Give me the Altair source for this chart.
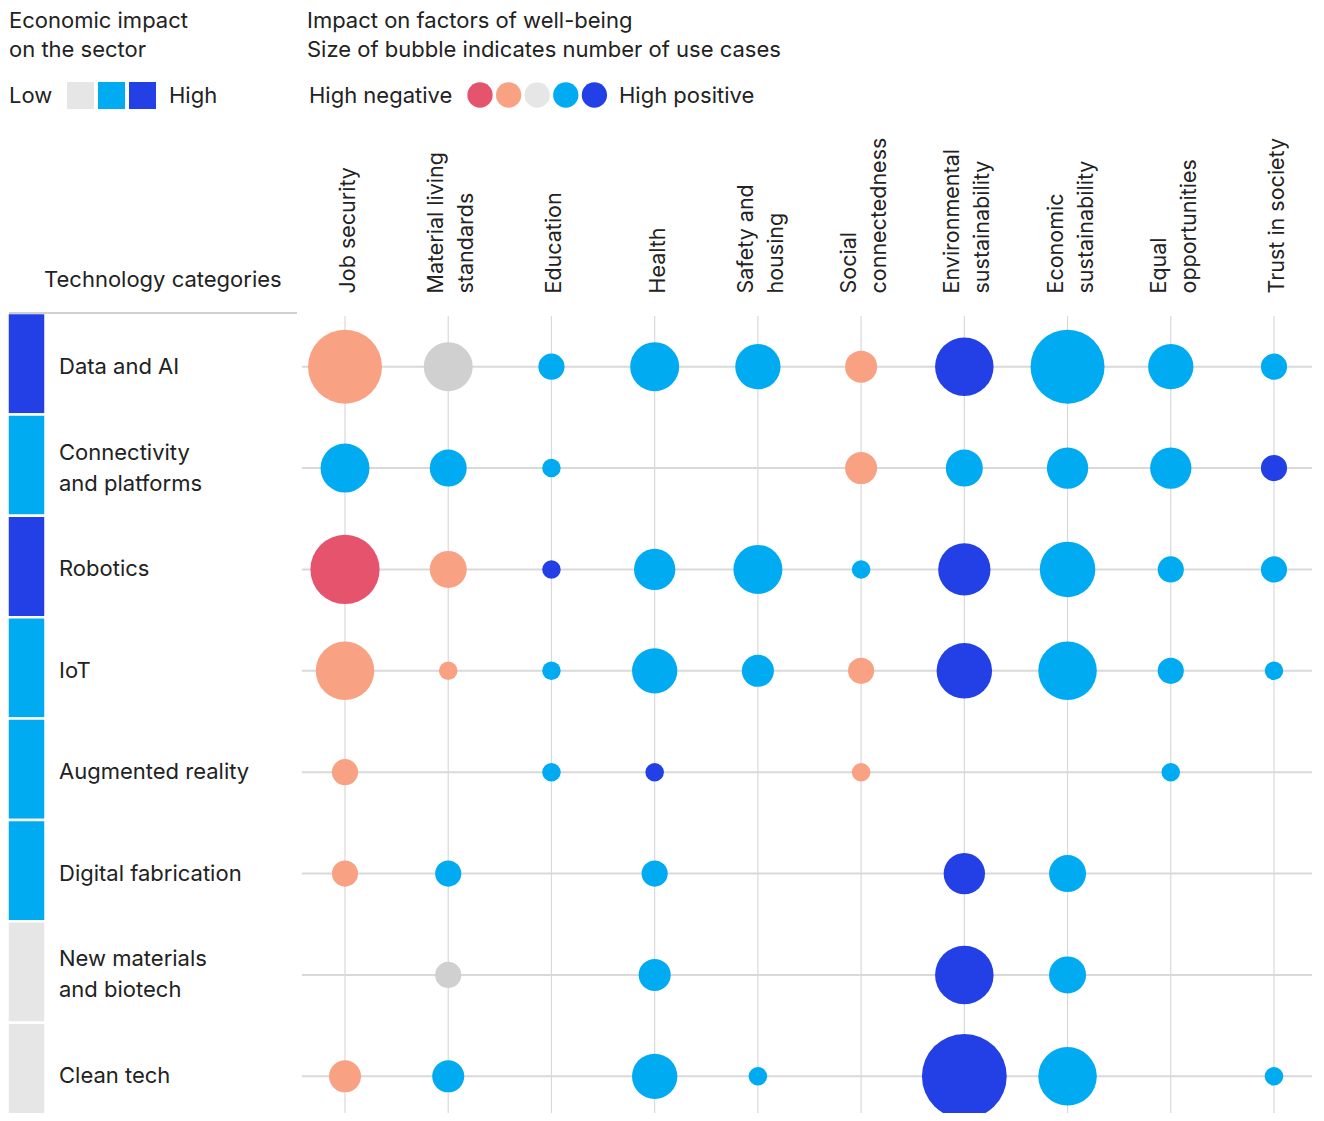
import altair as alt
import pandas as pd

# ---------------- data ----------------
columns = ["Job security", "Material living\nstandards", "Education", "Health",
           "Safety and\nhousing", "Social\nconnectedness", "Environmental\nsustainability",
           "Economic\nsustainability", "Equal\nopportunities", "Trust in society"]

rows = ["Data and AI", "Connectivity\nand platforms", "Robotics", "IoT",
        "Augmented reality", "Digital fabrication", "New materials\nand biotech", "Clean tech"]
row_labels = ["Data and AI", "Connectivity\nand platforms", "Robotics", "\u00a0IoT",
              "Augmented reality", "Digital fabrication", "New materials\nand biotech", "Clean tech"]
economic_impact = ["High", "Medium", "High", "Medium", "Medium", "Medium", "Low", "Low"]

# number of use cases per column (0 = no bubble)
cases_data_ai      = [16, 7, 2, 7, 6, 3, 10, 16, 6, 2]
cases_connectivity = [7, 4, 1, 0, 0, 3, 4, 5, 5, 2]
cases_robotics     = [14, 4, 1, 5, 7, 1, 8, 9, 2, 2]
cases_iot          = [10, 1, 1, 6, 3, 2, 9, 10, 2, 1]
cases_ar           = [2, 0, 1, 1, 0, 1, 0, 0, 1, 0]
cases_fabrication  = [2, 2, 0, 2, 0, 0, 5, 4, 0, 0]
cases_materials    = [0, 2, 0, 3, 0, 0, 10, 4, 0, 0]
cases_cleantech    = [3, 3, 0, 6, 1, 0, 21, 10, 0, 1]

# impact on well-being: -2 high negative ... 2 high positive (None = no bubble)
impact_data_ai      = [-1, 0, 1, 1, 1, -1, 2, 1, 1, 1]
impact_connectivity = [1, 1, 1, None, None, -1, 1, 1, 1, 2]
impact_robotics     = [-2, -1, 2, 1, 1, 1, 2, 1, 1, 1]
impact_iot          = [-1, -1, 1, 1, 1, -1, 2, 1, 1, 1]
impact_ar           = [-1, None, 1, 2, None, -1, None, None, 1, None]
impact_fabrication  = [-1, 1, None, 1, None, None, 2, 1, None, None]
impact_materials    = [None, 0, None, 1, None, None, 2, 1, None, None]
impact_cleantech    = [-1, 1, None, 1, 1, None, 2, 1, None, 1]

econ_levels = ["Low", "Medium", "High"]
econ_colors = ["#E6E6E6", "#00ABF2", "#2240E6"]
impact_levels = [-2, -1, 0, 1, 2]
impact_colors = ["#E5546C", "#F8A283", "#D0D0D0", "#00ABF2", "#2240E6"]
impact_legend_colors = ["#E5546C", "#F8A283", "#E6E6E6", "#00ABF2", "#2240E6"]

# ---------------- tables ----------------
cases_all = [cases_data_ai, cases_connectivity, cases_robotics, cases_iot,
             cases_ar, cases_fabrication, cases_materials, cases_cleantech]
impact_all = [impact_data_ai, impact_connectivity, impact_robotics, impact_iot,
              impact_ar, impact_fabrication, impact_materials, impact_cleantech]

recs = []
for r, cs, ims in zip(rows, cases_all, impact_all):
    for c, n, im in zip(columns, cs, ims):
        if n:
            recs.append({"row": r, "column": c, "cases": n, "impact": im})
bubble_df = pd.DataFrame(recs)
row_df = pd.DataFrame({"row": rows, "label": row_labels, "econ": economic_impact})
row_df["lines"] = row_df["label"].str.count("\n") + 1
col_df = pd.DataFrame({"column": columns})

W, H = 1010, 797
FONT = "Inter"
FS = 22
TXT = "#222222"
GRID = "#D9D9D9"

xscale = alt.Scale(type="band", domain=columns, range=[-8.6, 1023.6], paddingInner=0, paddingOuter=0)
yscale = alt.Scale(type="band", domain=rows, range=[0, 811], paddingInner=0, paddingOuter=0)
yscale_bars = alt.Scale(type="band", domain=rows, range=[-3, 808], paddingInner=0, paddingOuter=0)

top_axis = alt.Axis(orient="top", labelAngle=270, labelAlign="left", labelBaseline="middle",
                    labelPadding=23, ticks=False, tickSize=0, domain=False, grid=False,
                    labelFontSize=21.5, labelColor=TXT, labelFont=FONT, labelLineHeight=30,
                    labelExpr="split(datum.label, '\\n')", labelLimit=400,
                    labelOverlap=False,
                    labelOffset={"condition": {"test": "indexof(datum.value, '\\n') >= 0", "value": -11},
                                 "value": 4},
                    title=None)

vgrid = alt.Chart(col_df).mark_rule(color=GRID, strokeWidth=1.2).encode(
    x=alt.X("column:N", scale=xscale, axis=top_axis),
    y=alt.value(0), y2=alt.value(H))

hgrid = alt.Chart(row_df).mark_rule(color=GRID, strokeWidth=2).encode(
    y=alt.Y("row:N", scale=yscale, axis=None),
    x=alt.value(0), x2=alt.value(W))

bars = alt.Chart(row_df).mark_rect(stroke="white", strokeWidth=2.5).encode(
    y=alt.Y("row:N", scale=yscale_bars, axis=None),
    x=alt.value(-294.5), x2=alt.value(-256.5),
    color=alt.Color("econ:N", scale=alt.Scale(domain=econ_levels, range=econ_colors), legend=None))

labels1 = alt.Chart(row_df).transform_filter("datum.lines == 1").mark_text(
    align="left", baseline="middle", fontSize=FS, font=FONT, color=TXT).encode(
    y=alt.Y("row:N", scale=yscale, axis=None),
    x=alt.value(-243), text="label:N")

labels2 = alt.Chart(row_df).transform_filter("datum.lines == 2").mark_text(
    align="left", baseline="middle", fontSize=FS, font=FONT, color=TXT,
    lineBreak="\n", lineHeight=31, dy=-15.5).encode(
    y=alt.Y("row:N", scale=yscale, axis=None),
    x=alt.value(-243), text="label:N")

bubbles = alt.Chart(bubble_df).mark_circle(opacity=1).encode(
    x=alt.X("column:N", scale=xscale, axis=None),
    y=alt.Y("row:N", scale=yscale, axis=None),
    size=alt.Size("cases:Q", scale=alt.Scale(type="linear", domain=[0, 21], range=[0, 7187]), legend=None),
    color=alt.Color("impact:O", scale=alt.Scale(domain=impact_levels, range=impact_colors), legend=None))

# ---------------- header / legends ----------------
head_df = pd.DataFrame({
    "text": ["Economic impact", "on the sector", "Low", "High",
             "Impact on factors of well-being", "Size of bubble indicates number of use cases",
             "High negative", "High positive", "Technology categories"],
    "x": [-293, -293, -293, -133, 5, 5, 7, 317, -258],
    "y": [-295, -266, -220, -220, -295, -266, -220, -220, -36],
})
head = alt.Chart(head_df).mark_text(align="left", baseline="middle", fontSize=FS, font=FONT, color=TXT).encode(
    x=alt.X("x:Q", scale=None, axis=None), y=alt.Y("y:Q", scale=None, axis=None), text="text:N")

sq_df = pd.DataFrame({"level": econ_levels, "color": econ_colors})
sq_df["x"] = [-235 + 31 * i for i in range(len(econ_levels))]
sq_df["x2"] = sq_df["x"] + 27
sq_df["y"] = -234
sq_df["y2"] = -207
squares = alt.Chart(sq_df).mark_rect().encode(
    x=alt.X("x:Q", scale=None, axis=None), x2="x2:Q",
    y=alt.Y("y:Q", scale=None, axis=None), y2="y2:Q",
    color=alt.Color("color:N", scale=None))

dot_df = pd.DataFrame({"level": impact_levels, "color": impact_legend_colors})
dot_df["x"] = [178 + 28.6 * i for i in range(len(impact_levels))]
dot_df["y"] = -221
dots = alt.Chart(dot_df).mark_circle(opacity=1, size=640).encode(
    x=alt.X("x:Q", scale=None, axis=None), y=alt.Y("y:Q", scale=None, axis=None),
    color=alt.Color("color:N", scale=None))

sep = alt.Chart(col_df.head(1)).mark_rule(color="#D0D0D0", strokeWidth=2).encode(
    x=alt.value(-293), x2=alt.value(-5), y=alt.value(-3))

chart = alt.layer(vgrid, hgrid, bars, bubbles, labels1, labels2, head, squares, dots, sep).resolve_scale(
    x="independent", y="independent", color="independent", size="independent"
).properties(
    width=W, height=H,
    padding={"left": 294, "top": 308, "right": 0, "bottom": 0},
    autosize=alt.AutoSizeParams(type="none"),
    background="white",
).configure_view(strokeWidth=0)

chart.save("out.html", embed_options={"renderer": "svg", "actions": False})
